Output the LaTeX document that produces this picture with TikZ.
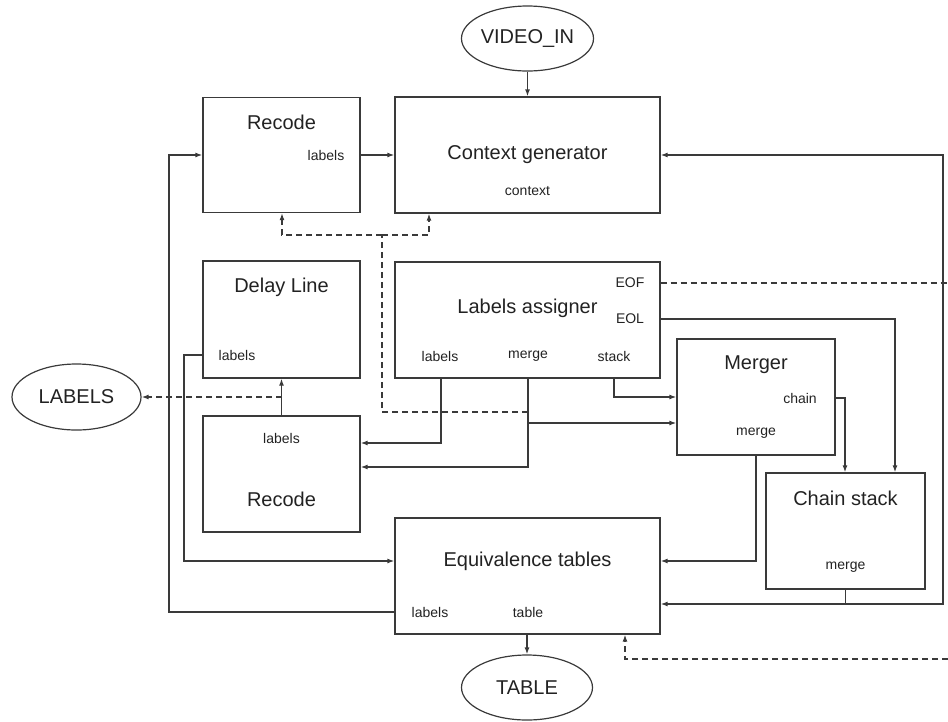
\documentclass[tikz,border=0pt]{standalone}
\usepackage{fontspec}
\setmainfont{Liberation Sans}
\usetikzlibrary{arrows.meta,shapes.geometric}
\definecolor{ln}{HTML}{3A3A3A}
\definecolor{tx}{HTML}{222222}
\tikzset{
  box/.style={draw=ln,line width=1.3pt,rectangle,inner sep=0pt},
  oval/.style={draw=ln,line width=1.2pt,ellipse,inner sep=0pt,minimum width=131pt,minimum height=65pt,font=\fontsize{20}{23}\selectfont,text=tx},
  ttl/.style={inner sep=0pt,font=\fontsize{20}{23}\selectfont,text=tx},
  sml/.style={inner sep=0pt,font=\fontsize{14}{16}\selectfont,text=tx},
  wire/.style={draw=ln,line width=1.3pt},
  arr/.style={wire,-{Latex[length=7pt,width=5pt]}},
  dsh/.style={wire,dash pattern=on 6pt off 4pt},
  darr/.style={dsh,-{Latex[length=7pt,width=5pt]}},
}
\begin{document}
\begin{tikzpicture}[x=1pt,y=-1pt]
\useasboundingbox (0,0) rectangle (948,721);
% ---- blocks
\node[oval] (vin) at (527.5,38.5) {VIDEO\_IN};
\node[box,minimum width=157pt,minimum height=115pt] (rec1) at (281.5,155) {};
\node[box,minimum width=265pt,minimum height=116pt] (ctx) at (527.5,155) {};
\node[box,minimum width=265pt,minimum height=116pt] (las) at (527.5,320) {};
\node[box,minimum width=157pt,minimum height=117pt] (dly) at (281.5,319.5) {};
\node[oval,minimum width=129pt,minimum height=66pt] (lbl) at (76.5,397) {LABELS};
\node[box,minimum width=157pt,minimum height=116pt] (rec2) at (281.5,474) {};
\node[box,minimum width=158pt,minimum height=116pt] (mrg) at (756,397) {};
\node[box,minimum width=159pt,minimum height=116pt] (chs) at (845.5,531) {};
\node[box,minimum width=265pt,minimum height=116pt] (eqt) at (527.5,576) {};
\node[oval] (tbl) at (527,687.5) {TABLE};
% ---- texts
\node[ttl] (rec1t) at (281.5,122) {Recode};
\node[sml] (rec1l) at (326,155) {labels};
\node[ttl] (ctxt) at (527.5,155) {Context generator};
\node[sml] (ctxc) at (527.5,191) {context};
\node[ttl] (dlyt) at (281.5,287) {Delay Line};
\node[sml] (dlyl) at (237,355) {labels};
\node[ttl] (last) at (527.5,308) {Labels assigner};
\node[sml] (lasf) at (630,283) {EOF};
\node[sml] (lase) at (630,319) {EOL};
\node[sml] (lasl) at (440,356) {labels};
\node[sml] (lasm) at (528,356) {merge};
\node[sml] (lass) at (614,356) {stack};
\node[sml] (rec2l) at (281.5,438) {labels};
\node[ttl] (rec2t) at (281.5,499) {Recode};
\node[ttl] (mrgt) at (756,365) {Merger};
\node[sml] (mrgc) at (800,398) {chain};
\node[sml] (mrgm) at (756,433) {merge};
\node[ttl] (chst) at (845.5,498) {Chain stack};
\node[sml] (chsm) at (845.5,567) {merge};
\node[ttl] (eqtt) at (527.5,561) {Equivalence tables};
\node[sml] (eqtl) at (430,612) {labels};
\node[sml] (eqtb) at (528,612) {table};
% ---- helper coordinates
\coordinate (L1) at (169,612);
\coordinate (L2) at (184,355);
\coordinate (L3) at (184,561);
\coordinate (R1) at (943,604);
\coordinate (EOFe) at (948,283);
\coordinate (EOLx) at (895,319);
\coordinate (STK) at (614,397);
\coordinate (MRG) at (528,467);
\coordinate (MRGb) at (528,423);
\coordinate (LBL) at (441,443);
\coordinate (CHN) at (845,398);
\coordinate (MM) at (756,561);
\coordinate (D1) at (382,412);
\coordinate (D2) at (382,235);
\coordinate (D3) at (282,235);
\coordinate (D4) at (429,235);
\coordinate (D5) at (282,397);
\coordinate (B1) at (948,659);
\coordinate (B2) at (625,659);
% ---- connectors
\draw[arr] (vin.south) -- (ctx.north);
\draw[arr] (rec1.east) -- (ctx.west);
\draw[arr] (eqt.west |- L1) -- (L1) |- (rec1.west);
\draw[arr] (chs.south) -- (chs.south |- R1) -- (R1) |- (ctx.east);
\draw[arr] (chs.south |- R1) -- (eqt.east |- R1);
\draw[dsh] (las.east |- EOFe) -- (EOFe);
\draw[arr] (las.east |- EOLx) -- (EOLx) -- (EOLx |- chs.north);
\draw[arr] (las.south -| STK) -- (STK) -- (mrg.west |- STK);
\draw[arr] (las.south -| MRG) -- (MRG) -- (rec2.east |- MRG);
\draw[arr] (MRGb) -- (mrg.west |- MRGb);
\draw[arr] (las.south -| LBL) -- (LBL) -- (rec2.east |- LBL);
\draw[dsh] (D1 -| MRG) -- (D1) -- (D2);
\draw[darr] (D2) -- (D3) -- (rec1.south -| D3);
\draw[darr] (D2) -- (D4) -- (ctx.south -| D4);
\draw[arr] (rec2.north) -- (dly.south);
\draw[darr] (D5) -- (lbl.east);
\draw[arr] (dly.west |- L2) -- (L2) -- (L3) -- (eqt.west |- L3);
\draw[arr] (mrg.east |- CHN) -- (CHN) -- (CHN |- chs.north);
\draw[arr] (mrg.south -| MM) -- (MM) -- (eqt.east |- MM);
\draw[arr] (eqt.south -| tbl.north) -- (tbl.north);
\draw[darr] (B1) -- (B2) -- (eqt.south -| B2);
\end{tikzpicture}
\end{document}
